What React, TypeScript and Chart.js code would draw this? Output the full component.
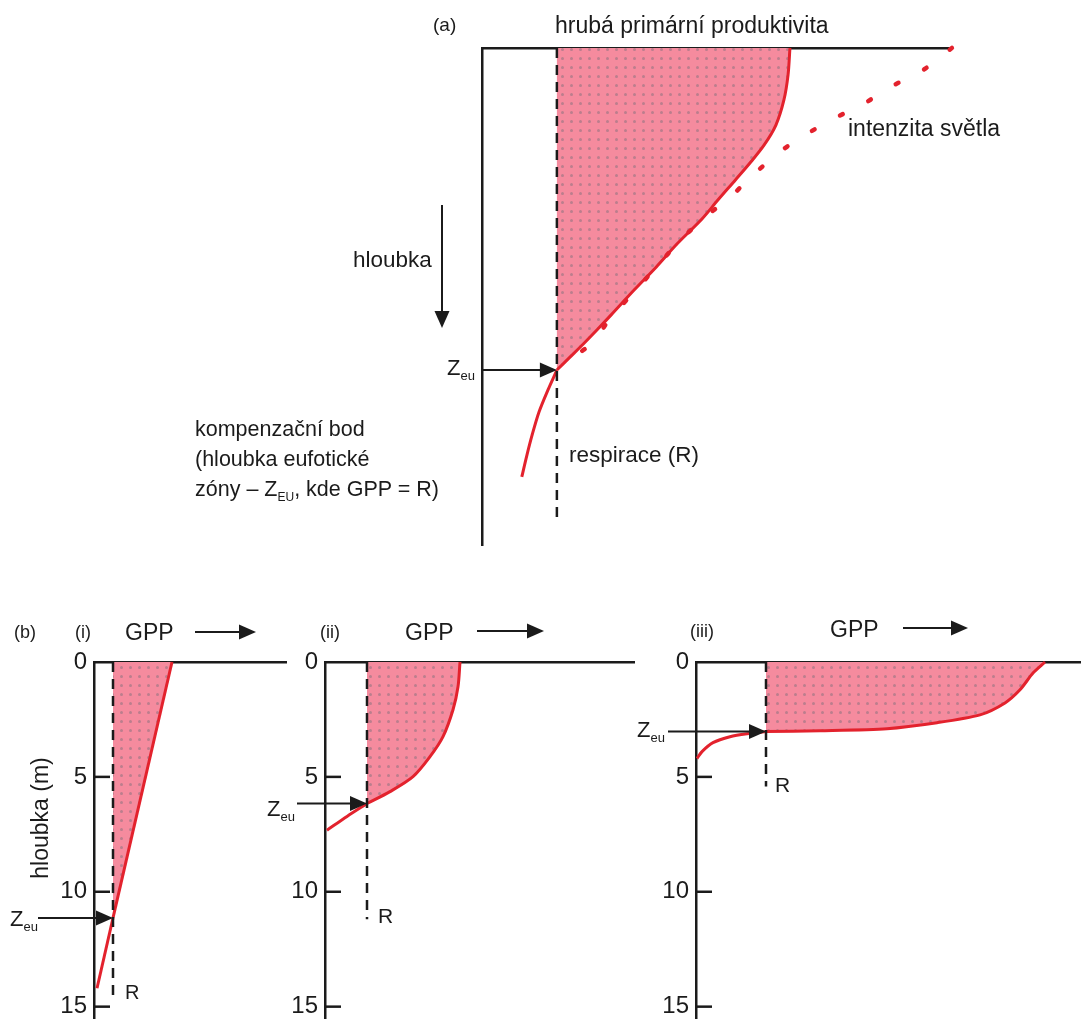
import React, { useEffect, useRef } from "react";
import { Chart, registerables } from "chart.js";

Chart.register(...registerables);

const FONT = "'Liberation Sans', Arial, Helvetica, sans-serif";
const RED = "#e3222d";
const INK = "#1b1b1b";
Chart.defaults.font.family = FONT;

// ---------- (a) data: depth (arbitrary units, 0..10) vs value (0..10)
const aDepth = [0, 0.54, 1.05, 1.55, 1.95, 2.31, 2.66, 3.06, 3.44, 3.94, 4.41, 4.87, 5.37, 5.67, 5.96, 6.22, 6.48, 6.88, 7.32, 7.79, 8.19, 8.63];
const aGpp = [6.58, 6.54, 6.45, 6.28, 6.03, 5.73, 5.41, 5.04, 4.7, 4.17, 3.72, 3.25, 2.76, 2.46, 2.16, 1.88, 1.6, 1.41, 1.22, 1.07, 0.96, 0.85];
const aLightDepth = [0, 0.46, 0.76, 1.13, 1.41, 1.73, 2.07, 2.54, 3.02, 3.42, 3.9, 4.41, 4.91, 5.41, 5.96, 6.32];
const aLight = [10.04, 9.4, 8.78, 8.14, 7.54, 6.94, 6.39, 5.81, 5.28, 4.74, 4.21, 3.72, 3.25, 2.76, 2.33, 1.73];
const aResp = 1.6;
const aZeu = 6.48;
const aRespEnd = 9.54;

// ---------- (b) data: depth in m
const depthTicks = [0, 5, 10, 15];
const b1Depth = [0, 11.14, 14.2];
const b1Gpp = [7.8, 1.9, 0.3];
const b1Resp = 1.9;
const b1Zeu = 11.14;
const b1RespEnd = 14.8;

const b2Depth = [0, 1.08, 2.08, 3.25, 4.12, 4.99, 5.64, 6.16, 6.72, 7.32];
const b2Gpp = [13.5, 13.3, 12.8, 11.8, 10.5, 8.8, 6.5, 4.2, 2.2, 0.2];
const b2Resp = 4.2;
const b2Zeu = 6.16;
const b2RespEnd = 11.2;

const b3Depth = [0, 0.48, 1.21, 1.78, 2.3, 2.64, 2.9, 2.99, 3.03, 3.12, 3.25, 3.51, 3.9, 4.2];
const b3Gpp = [34.9, 33.7, 32.4, 30.9, 28.4, 24.1, 19.1, 12.4, 7.0, 5.1, 3.4, 1.7, 0.6, 0.1];
const b3Resp = 7.0;
const b3Zeu = 3.03;
const b3RespEnd = 5.42;

type Arrow = { x1: number; y1: number; x2: number; y2: number };
type Panel = {
  left: number; top: number; w: number; h: number;
  pad: { left: number; top: number; right: number; bottom: number };
  axisW: number | null;
  xMax: number; yMax: number;
  depth: number[]; gpp: number[];
  lightDepth?: number[]; light?: number[];
  resp: number; zeu: number; respEnd: number;
  tension: number;
  arrows: Arrow[];
  zeuTail: number;
  ticks: boolean;
};

const panels: Panel[] = [
  {
    left: 0, top: 0, w: 1081, h: 590,
    pad: { left: 482, top: 48, right: 131, bottom: 45 }, axisW: null,
    xMax: 10, yMax: 10, depth: aDepth, gpp: aGpp, lightDepth: aLightDepth, light: aLight,
    resp: aResp, zeu: aZeu, respEnd: aRespEnd, tension: 0.3,
    arrows: [{ x1: 442, y1: 205, x2: 442, y2: 328 }], zeuTail: 483, ticks: false,
  },
  {
    left: 0, top: 600, w: 300, h: 440,
    pad: { left: 0, top: 62, right: 14, bottom: 20 }, axisW: 94,
    xMax: 19.2, yMax: 15.52, depth: b1Depth, gpp: b1Gpp,
    resp: b1Resp, zeu: b1Zeu, respEnd: b1RespEnd, tension: 0,
    arrows: [{ x1: 195, y1: 632, x2: 256, y2: 632 }], zeuTail: 38, ticks: true,
  },
  {
    left: 240, top: 600, w: 420, h: 440,
    pad: { left: 0, top: 62, right: 26, bottom: 20 }, axisW: 85,
    xMax: 30.9, yMax: 15.52, depth: b2Depth, gpp: b2Gpp,
    resp: b2Resp, zeu: b2Zeu, respEnd: b2RespEnd, tension: 0.3,
    arrows: [{ x1: 477, y1: 631, x2: 544, y2: 631 }], zeuTail: 297, ticks: true,
  },
  {
    left: 620, top: 600, w: 461, h: 440,
    pad: { left: 0, top: 62, right: 0, bottom: 20 }, axisW: 76,
    xMax: 38.5, yMax: 15.52, depth: b3Depth, gpp: b3Gpp,
    resp: b3Resp, zeu: b3Zeu, respEnd: b3RespEnd, tension: 0.25,
    arrows: [{ x1: 903, y1: 628, x2: 968, y2: 628 }], zeuTail: 668, ticks: true,
  },
];

function makePattern(): CanvasPattern | string {
  const c = document.createElement("canvas");
  c.width = 9;
  c.height = 9;
  const g = c.getContext("2d");
  if (!g) return "#f58b9e";
  g.fillStyle = "#f58b9e";
  g.fillRect(0, 0, 9, 9);
  g.fillStyle = "rgba(140,115,128,0.55)";
  g.beginPath();
  g.arc(4.5, 4.5, 1.5, 0, Math.PI * 2);
  g.fill();
  return g.createPattern(c, "repeat") || "#f58b9e";
}

function drawArrow(ctx: CanvasRenderingContext2D, x1: number, y1: number, x2: number, y2: number) {
  const headLen = 17;
  const headW = 7.5;
  const ang = Math.atan2(y2 - y1, x2 - x1);
  const bx = x2 - headLen * Math.cos(ang);
  const by = y2 - headLen * Math.sin(ang);
  ctx.beginPath();
  ctx.moveTo(x1, y1);
  ctx.lineTo(bx + 1 * Math.cos(ang), by + 1 * Math.sin(ang));
  ctx.stroke();
  ctx.beginPath();
  ctx.moveTo(x2, y2);
  ctx.lineTo(bx - headW * Math.sin(ang), by + headW * Math.cos(ang));
  ctx.lineTo(bx + headW * Math.sin(ang), by - headW * Math.cos(ang));
  ctx.closePath();
  ctx.fill();
}

function buildConfig(p: Panel): any {
  const pattern = makePattern();
  const pts = p.depth.map((d, i) => ({ x: p.gpp[i], y: d }));
  const upper = pts.filter((q) => q.y <= p.zeu);
  const lower = pts.filter((q) => q.y >= p.zeu);
  const datasets: any[] = [];
  if (p.light && p.lightDepth) {
    datasets.push({
      data: p.lightDepth.map((d, i) => ({ x: p.light![i], y: d })),
      borderColor: RED, borderWidth: 4.5, borderDash: [3, 29], borderCapStyle: "round",
      pointRadius: 0, fill: false, tension: 0.3, clip: false,
    });
  }
  datasets.push({
    data: [{ x: p.resp, y: 0 }, { x: p.resp, y: p.respEnd }],
    borderColor: INK, borderWidth: 2.5, borderDash: [10, 7],
    pointRadius: 0, fill: false, tension: 0, clip: false,
  });
  datasets.push({
    data: upper, borderColor: RED, borderWidth: 3, backgroundColor: pattern,
    fill: { value: p.resp }, pointRadius: 0, tension: p.tension, clip: false,
  });
  datasets.push({
    data: lower, borderColor: RED, borderWidth: 3,
    fill: false, pointRadius: 0, tension: p.tension, clip: false,
  });

  const annot = {
    id: "annot",
    afterDraw(chart: any) {
      const { ctx, chartArea, scales } = chart;
      ctx.save();
      ctx.strokeStyle = INK;
      ctx.fillStyle = INK;
      ctx.lineWidth = 2;
      for (const a of p.arrows) {
        drawArrow(ctx, a.x1 - p.left, a.y1 - p.top, a.x2 - p.left, a.y2 - p.top);
      }
      const tipX = scales.x.getPixelForValue(p.resp);
      const tipY = scales.y.getPixelForValue(p.zeu);
      drawArrow(ctx, p.zeuTail - p.left, tipY, tipX, tipY);
      if (p.ticks) {
        ctx.lineWidth = 2.5;
        for (const v of depthTicks) {
          if (v === 0) continue;
          const y = scales.y.getPixelForValue(v);
          ctx.beginPath();
          ctx.moveTo(chartArea.left, y);
          ctx.lineTo(chartArea.left + 16, y);
          ctx.stroke();
        }
      }
      ctx.restore();
    },
  };

  const yScale: any = {
    type: "linear", reverse: true, min: 0, max: p.yMax, display: true,
    grid: { display: false, drawTicks: false },
    border: { display: true, color: INK, width: 2.5 },
    ticks: p.ticks
      ? { display: true, color: INK, padding: 7, font: { size: 24, family: FONT } }
      : { display: false },
  };
  if (p.ticks) {
    yScale.afterBuildTicks = (s: any) => {
      s.ticks = depthTicks.map((v) => ({ value: v }));
    };
  }
  if (p.axisW !== null) {
    const w = p.axisW;
    yScale.afterFit = (s: any) => {
      s.width = w;
    };
  }

  return {
    type: "line",
    data: { datasets },
    plugins: [annot],
    options: {
      indexAxis: "y",
      responsive: false,
      animation: false,
      events: [],
      layout: { padding: p.pad },
      plugins: { legend: { display: false }, tooltip: { enabled: false } },
      scales: {
        x: {
          type: "linear", position: "top", min: 0, max: p.xMax, display: true,
          grid: { display: false, drawTicks: false },
          border: { display: true, color: INK, width: 2.5 },
          ticks: { display: false },
        },
        y: yScale,
      },
    },
  };
}

function ChartPanel({ p }: { p: Panel }) {
  const ref = useRef<HTMLCanvasElement>(null);
  useEffect(() => {
    if (!ref.current) return;
    const chart = new Chart(ref.current, buildConfig(p));
    return () => chart.destroy();
  }, [p]);
  return (
    <canvas
      ref={ref}
      width={p.w}
      height={p.h}
      style={{ position: "absolute", left: p.left, top: p.top, width: p.w, height: p.h }}
    />
  );
}

function T({ x, y, s, children }: { x: number; y: number; s: number; children: React.ReactNode }) {
  return (
    <div
      style={{
        position: "absolute", left: x, top: y - 0.846 * s, fontSize: s, lineHeight: `${s}px`,
        fontFamily: FONT, color: INK, whiteSpace: "nowrap",
      }}
    >
      {children}
    </div>
  );
}

const sub = (s: number, dy: number): React.CSSProperties => ({
  fontSize: s, lineHeight: 0, position: "relative", top: dy,
});

export default function App() {
  return (
    <div style={{ position: "absolute", left: 0, top: 0, width: 1081, height: 1020, overflow: "hidden", background: "#fff" }}>
      {panels.map((p, i) => (
        <ChartPanel key={i} p={p} />
      ))}
      <div style={{ position: "absolute", left: 0, top: 0, width: 1081, height: 1020, pointerEvents: "none" }}>
        {/* (a) */}
        <T x={433} y={31} s={19}>(a)</T>
        <T x={555} y={33} s={23}>hrubá primární produktivita</T>
        <T x={848} y={136} s={23}>intenzita světla</T>
        <T x={353} y={268} s={22.5}>hloubka</T>
        <T x={447} y={376} s={22}>Z<span style={sub(13, 5)}>eu</span></T>
        <T x={195} y={437} s={21.5}>kompenzační bod</T>
        <T x={195} y={467} s={21.5}>(hloubka eufotické</T>
        <T x={195} y={497} s={21.5}>zóny – Z<span style={sub(12, 5)}>EU</span>, kde GPP = R)</T>
        <T x={569} y={463} s={22.5}>respirace (R)</T>
        {/* (b) */}
        <T x={14} y={638} s={18}>(b)</T>
        <T x={75} y={638} s={18}>(i)</T>
        <T x={125} y={640} s={23}>GPP</T>
        <T x={320} y={638} s={18}>(ii)</T>
        <T x={405} y={640} s={23}>GPP</T>
        <T x={690} y={637} s={18}>(iii)</T>
        <T x={830} y={637} s={23}>GPP</T>
        <T x={10} y={927} s={22}>Z<span style={sub(13, 5)}>eu</span></T>
        <T x={267} y={817} s={22}>Z<span style={sub(13, 5)}>eu</span></T>
        <T x={637} y={738} s={22}>Z<span style={sub(13, 5)}>eu</span></T>
        <T x={125} y={999} s={20}>R</T>
        <T x={378} y={923} s={21}>R</T>
        <T x={775} y={792} s={21}>R</T>
        <div
          style={{
            position: "absolute", left: 40, top: 818, fontSize: 23, lineHeight: "23px", fontFamily: FONT,
            color: INK, whiteSpace: "nowrap", transform: "translate(-50%, -50%) rotate(-90deg)",
          }}
        >
          hloubka (m)
        </div>
      </div>
    </div>
  );
}
